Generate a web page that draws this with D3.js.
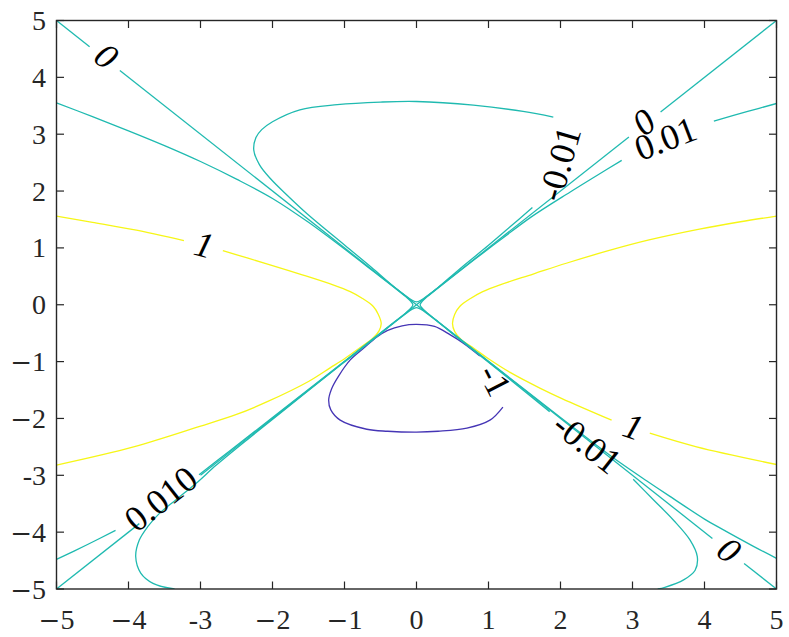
<!DOCTYPE html>
<html>
<head>
<meta charset="utf-8">
<script src="https://cdn.jsdelivr.net/npm/d3@7"></script>
<style>
  html, body { margin: 0; padding: 0; background: #ffffff; }
  svg { display: block; }
</style>
</head>
<body>
<svg id="chart" width="789" height="637"></svg>
<script>
// ---------------- data ----------------
const levels = [-1, -0.01, 0, 0.01, 1];
const levelColors = ["#4535b5", "#1fbab0", "#1fbab0", "#1fbab0", "#f6f617"];

const xTickValues = [-5, -4, -3, -2, -1, 0, 1, 2, 3, 4, 5];
const xTickLabels = ["−5", "−4", "-3", "−2", "−1", "0", "1", "2", "3", "4", "5"];
const yTickValues = [-5, -4, -3, -2, -1, 0, 1, 2, 3, 4, 5];
const yTickLabels = ["−5", "−4", "-3", "−2", "−1", "0", "1", "2", "3", "4", "5"];

// level 0 : the two diagonals (broken where labels sit)
const zeroLines = [
  [[-5, 5], [-4.54, 4.54]],
  [[-4.12, 4.12], [0, 0]],
  [[0, 0], [2.95, 2.95]],
  [[3.39, 3.39], [5, 5]],
  [[-5, -5], [-3.85, -3.85]],
  [[-3.0, -3.0], [0, 0]],
  [[0, 0], [4.11, -4.11]],
  [[4.55, -4.55], [5, -5]]
];

// level 0.01 : left and right wedges
const posSmallLines = [
  [[-5, 3.55], [-4.5, 3.31], [-4.0, 3.06], [-3.5, 2.80], [-3.0, 2.52], [-2.5, 2.21],
   [-2.0, 1.87], [-1.5, 1.45], [-1.0, 0.98], [-0.6, 0.59], [-0.3, 0.296], [-0.15, 0.143],
   [-0.086, 0.07], [-0.05, 0], [-0.086, -0.07], [-0.15, -0.143], [-0.3, -0.296],
   [-0.6, -0.594], [-1.0, -0.992], [-2.0, -1.985], [-2.6, -2.575], [-3.02, -2.99]],
  [[-4.18, -3.97], [-4.59, -4.23], [-5, -4.48]],
  [[5, 3.54], [4.6, 3.40], [4.13, 3.23]],
  [[2.85, 2.54], [2.5, 2.27], [2.13, 1.98], [1.6, 1.55], [1.2, 1.175], [0.8, 0.79],
   [0.3, 0.297], [0.15, 0.143], [0.086, 0.07], [0.05, 0], [0.086, -0.07], [0.15, -0.143],
   [0.3, -0.297], [1.0, -0.992], [2.0, -1.985], [2.5, -2.47], [2.83, -2.78], [3.2, -3.10],
   [3.52, -3.37], [4.0, -3.77], [4.22, -3.93], [4.68, -4.25], [5, -4.46]]
];

// level -0.01 : top loop and bottom wedge curve
const negSmallLines = [
  [[1.61, 1.71], [1.3, 1.37], [1.0, 1.045], [0.6, 0.63], [0.3, 0.304], [0.15, 0.158],
   [0.07, 0.086], [0, 0.05], [-0.07, 0.086], [-0.15, 0.158], [-0.3, 0.304], [-0.6, 0.63],
   [-1.0, 1.05], [-1.52, 1.60], [-1.80, 1.93], [-2.03, 2.22], [-2.18, 2.46], [-2.26, 2.72],
   [-2.23, 2.94], [-2.15, 3.08], [-2.0, 3.22], [-1.62, 3.43], [-1.1, 3.52], [-0.5, 3.565],
   [0, 3.575], [0.79, 3.51], [1.48, 3.40], [1.90, 3.30]],
  [[-3.36, -5.0], [-3.66, -4.90], [-3.83, -4.72], [-3.90, -4.43], [-3.85, -4.14],
   [-3.73, -3.90], [-3.57, -3.67], [-3.34, -3.43], [-3.06, -3.14], [-2.78, -2.82],
   [-2.3, -2.32], [-1.5, -1.51], [-1.0, -1.005], [-0.6, -0.61], [-0.3, -0.304],
   [-0.15, -0.158], [-0.07, -0.086], [0, -0.05], [0.07, -0.086], [0.15, -0.158],
   [0.3, -0.304], [0.6, -0.61], [1.0, -1.01], [1.5, -1.52], [1.85, -1.88]],
  [[3.01, -3.07], [3.29, -3.43], [3.57, -3.79], [3.80, -4.14], [3.90, -4.43],
   [3.87, -4.67], [3.71, -4.84], [3.45, -4.97], [3.35, -5.0]]
];

// level -1 : closed loop below the origin (open where its label sits)
const negOneLines = [
  [[1.20, -1.80], [1.02, -2.03], [0.70, -2.17], [0.3, -2.225], [0, -2.24], [-0.4, -2.225],
   [-0.69, -2.19], [-1.06, -2.03], [-1.19, -1.85], [-1.22, -1.68], [-1.18, -1.48],
   [-1.08, -1.25], [-0.92, -0.97], [-0.74, -0.77], [-0.55, -0.565], [-0.40, -0.45],
   [-0.2, -0.37], [0, -0.345], [0.25, -0.38], [0.47, -0.53], [0.65, -0.675], [0.88, -0.90]]
];

// level 1 : two hyperbola-like branches
const posOneLines = [
  [[-5, 1.56], [-4.5, 1.45], [-3.93, 1.32], [-3.23, 1.13]],
  [[-2.69, 0.95], [-2.08, 0.72], [-1.62, 0.54], [-1.16, 0.35], [-0.92, 0.23], [-0.75, 0.11],
   [-0.60, -0.03], [-0.53, -0.17], [-0.49, -0.33], [-0.52, -0.46], [-0.60, -0.58],
   [-0.8, -0.77], [-1.0, -0.95], [-1.2, -1.11], [-1.5, -1.35], [-2.08, -1.71],
   [-2.5, -1.93], [-3.01, -2.14], [-3.93, -2.50], [-5, -2.82]],
  [[5, 1.56], [4.5, 1.46], [3.93, 1.33], [3.23, 1.14], [2.69, 0.96], [2.08, 0.73],
   [1.62, 0.54], [1.16, 0.35], [0.92, 0.23], [0.75, 0.11], [0.60, -0.03], [0.53, -0.17],
   [0.50, -0.33], [0.53, -0.47], [0.62, -0.61], [0.8, -0.77], [1.0, -0.95], [1.3, -1.19],
   [1.72, -1.47], [2.02, -1.65], [2.71, -2.03]],
  [[3.24, -2.26], [3.89, -2.50], [5, -2.81]]
];

// contour labels: text, x, y, rotation (deg, screen), italic
const labelTexts = ["0", "1", "-0.01", "0", "0.01", "-1", "1", "-0.01", "0", "0.010"];
const labelX = [-4.31, -2.95, 1.99, 3.16, 3.46, 1.09, 3.01, 2.37, 4.34, -3.55];
const labelY = [4.37, 1.05, 2.48, 3.21, 2.92, -1.33, -2.15, -2.44, -4.32, -3.42];
const labelRot = [38.3, 15, -74, -38.3, -21, 63, 19, 38.3, 38.3, -38.3];
const labelItalic = [true, true, false, true, false, false, true, false, true, false];

// ---------------- drawing ----------------
const svg = d3.select("#chart");
const plot = { left: 56.5, top: 20.5, right: 776.5, bottom: 589 };

const x = d3.scaleLinear().domain([-5, 5]).range([plot.left, plot.right]);
const y = d3.scaleLinear().domain([-5, 5]).range([plot.bottom, plot.top]);

svg.append("defs").append("clipPath").attr("id", "clip")
  .append("rect")
  .attr("x", plot.left).attr("y", plot.top)
  .attr("width", plot.right - plot.left).attr("height", plot.bottom - plot.top);

const line = d3.line()
  .x(d => x(d[0]))
  .y(d => y(d[1]))
  .curve(d3.curveCatmullRom.alpha(0.5));

const g = svg.append("g").attr("clip-path", "url(#clip)");

const groups = [
  { level: 1, lines: posOneLines },
  { level: -1, lines: negOneLines },
  { level: -0.01, lines: negSmallLines },
  { level: 0.01, lines: posSmallLines },
  { level: 0, lines: zeroLines }
];

groups.forEach(grp => {
  const col = levelColors[levels.indexOf(grp.level)];
  g.selectAll(null)
    .data(grp.lines)
    .enter().append("path")
    .attr("d", line)
    .attr("fill", "none")
    .attr("stroke", col)
    .attr("stroke-width", 1.3)
    .attr("stroke-linejoin", "round")
    .attr("stroke-linecap", "butt");
});

// contour labels
const labels = labelTexts.map((t, i) => ({ t, x: labelX[i], y: labelY[i], r: labelRot[i], it: labelItalic[i] }));
svg.append("g").selectAll("text")
  .data(labels)
  .enter().append("text")
  .attr("transform", d => `translate(${x(d.x)},${y(d.y)}) rotate(${d.r})`)
  .attr("text-anchor", "middle")
  .attr("dy", "0.33em")
  .style("font-family", "\"Liberation Serif\", \"DejaVu Serif\", serif")
  .style("font-style", d => d.it ? "italic" : "normal")
  .style("font-size", "36px")
  .attr("fill", "#000000")
  .text(d => d.t);

// axes box
const axisColor = "#262626";
svg.append("rect")
  .attr("x", plot.left).attr("y", plot.top)
  .attr("width", plot.right - plot.left).attr("height", plot.bottom - plot.top)
  .attr("fill", "none").attr("stroke", axisColor).attr("stroke-width", 1.4);

const tickLen = 7.5;
const axG = svg.append("g").attr("stroke", axisColor).attr("stroke-width", 1.2);
xTickValues.forEach(v => {
  axG.append("line").attr("x1", x(v)).attr("x2", x(v)).attr("y1", plot.bottom).attr("y2", plot.bottom - tickLen);
  axG.append("line").attr("x1", x(v)).attr("x2", x(v)).attr("y1", plot.top).attr("y2", plot.top + tickLen);
});
yTickValues.forEach(v => {
  axG.append("line").attr("y1", y(v)).attr("y2", y(v)).attr("x1", plot.left).attr("x2", plot.left + tickLen);
  axG.append("line").attr("y1", y(v)).attr("y2", y(v)).attr("x1", plot.right).attr("x2", plot.right - tickLen);
});

function addTickText(sel, label) {
  if (label.startsWith("−")) {
    sel.append("tspan").style("font-family", "\"DejaVu Serif\", serif").style("font-size", "26px").text("−");
    sel.append("tspan").text(label.slice(1));
  } else {
    sel.text(label);
  }
}

xTickValues.forEach((v, i) => {
  const t = svg.append("text")
    .attr("x", x(v)).attr("y", 628.5)
    .attr("text-anchor", "middle")
    .style("font-family", "\"Liberation Serif\", \"DejaVu Serif\", serif").style("font-size", "28px")
    .attr("fill", axisColor);
  addTickText(t, xTickLabels[i]);
});
yTickValues.forEach((v, i) => {
  const t = svg.append("text")
    .attr("x", 46).attr("y", y(v) + 9.5)
    .attr("text-anchor", "end")
    .style("font-family", "\"Liberation Serif\", \"DejaVu Serif\", serif").style("font-size", "28px")
    .attr("fill", axisColor);
  addTickText(t, yTickLabels[i]);
});
</script>
</body>
</html>
